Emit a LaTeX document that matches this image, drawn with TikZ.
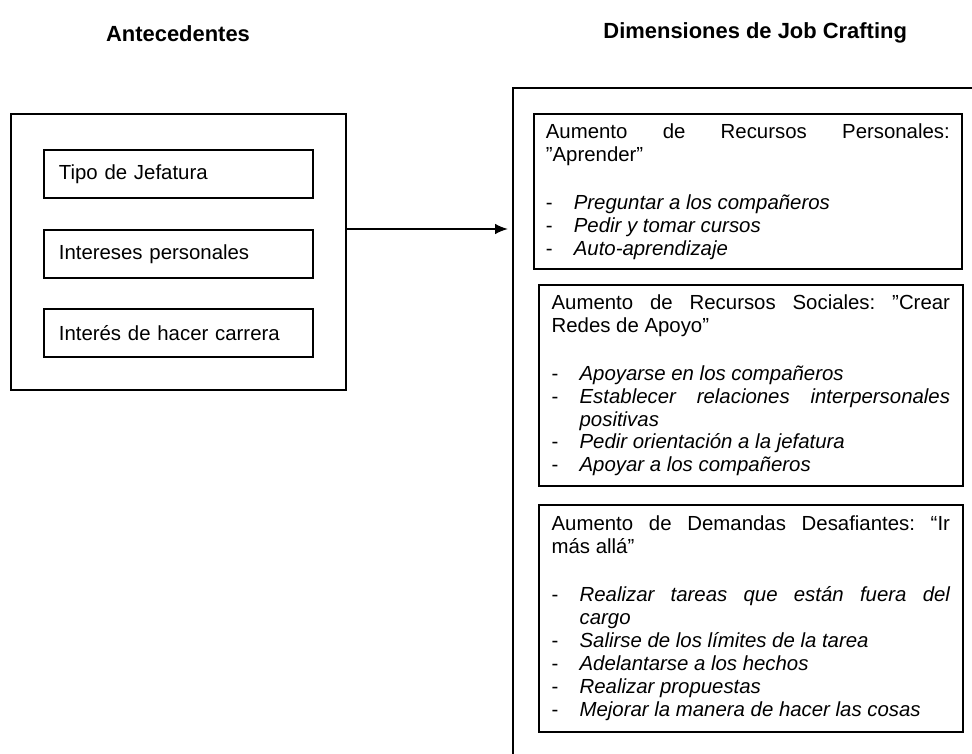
\documentclass[tikz,border=0pt]{standalone}
\usepackage{fontspec}
\setmainfont{Liberation Sans}
\usetikzlibrary{arrows.meta}
\frenchspacing
\newcommand{\crafitem}[1]{\par\noindent\hangindent=0.7cm\hangafter=1\makebox[0.7cm][l]{-}\textit{#1}}

\begin{document}
\begin{tikzpicture}[
		txt/.style={font=\fontsize{14.5}{16.3}\selectfont},
		frame/.style={draw, line width=1.2pt, anchor=north west, inner sep=0pt},
		antbox/.style={txt, draw, line width=1.2pt, anchor=north west, text width=5.975cm, inner xsep=0.375cm, minimum height=1.2cm, align=left},
		dimbox/.style={txt, draw, line width=1.2pt, anchor=north west, align=justify, inner ysep=0.24cm},
		head/.style={font=\fontsize{15.6}{18}\selectfont\bfseries},
		flecha/.style={line width=1.2pt, shorten >=0.1cm, -{Latex[length=0.32cm,width=0.26cm]}}]
		%%%%% START %%%%%
		
		\useasboundingbox (0,0) rectangle (24.3,-18.85);
		\clip (0,0) rectangle (24.3,-18.85);
		
		\node[head] (h1) at (4.45,-0.83) {Antecedentes};
		\node[head] (h2) at (18.88,-0.83) {Dimensiones de Job Crafting};
		
		\node[frame, minimum width=8.375cm, minimum height=6.9cm] (antec) at (0.25,-2.825) {};
		\node[antbox] (tipo) at (1.075,-3.725) {Tipo de Jefatura};
		\node[antbox] (interes) at (1.075,-5.725) {Intereses personales};
		\node[antbox] (carrera) at (1.075,-7.7) {Interés de hacer carrera};
		
		\node[frame, minimum width=12cm, minimum height=17.5cm] (dims) at (12.8,-2.175) {};
		
		\node[dimbox, text width=10.1cm, inner xsep=0.3cm] (aprender) at (13.325,-2.825) {\noindent Aumento de Recursos Personales:\linebreak ”Aprender”\par\vspace{0.63cm}
			\crafitem{Preguntar a los compañeros}
			\crafitem{Pedir y tomar cursos}
			\crafitem{Auto-aprendizaje}};
		
		\node[dimbox, text width=9.96cm, inner xsep=0.32cm] (redes) at (13.45,-7.1) {\noindent Aumento de Recursos Sociales: ”Crear\linebreak Redes de Apoyo”\par\vspace{0.63cm}
			\crafitem{Apoyarse en los compañeros}
			\crafitem{Establecer relaciones interpersonales\linebreak positivas}
			\crafitem{Pedir orientación a la jefatura}
			\crafitem{Apoyar a los compañeros}};
		
		\node[dimbox, text width=9.96cm, inner xsep=0.32cm, inner ysep=0.28cm] (masalla) at (13.45,-12.6) {\noindent Aumento de Demandas Desafiantes: “Ir\linebreak más allá”\par\vspace{0.63cm}
			\crafitem{Realizar tareas que están fuera del\linebreak cargo}
			\crafitem{Salirse de los límites de la tarea}
			\crafitem{Adelantarse a los hechos}
			\crafitem{Realizar propuestas}
			\crafitem{Mejorar la manera de hacer las cosas}};
		
		\draw[flecha] (antec.east |- interes.north) -- (dims.west |- interes.north);
		
		%%%%% END %%%%%
\end{tikzpicture}
\end{document}
